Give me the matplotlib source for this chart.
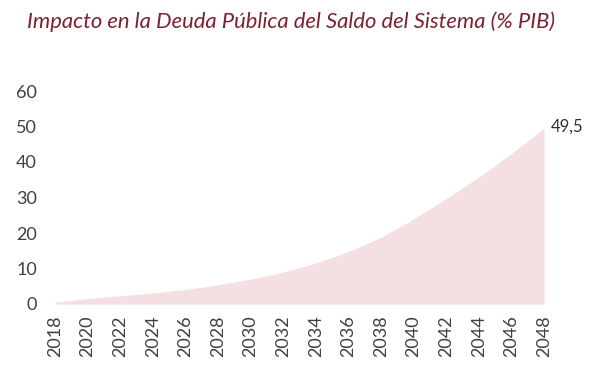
import matplotlib.pyplot as plt

# --- data ---
years = list(range(2018, 2049))
saldo = [0.5, 1.0, 1.5, 1.9, 2.3, 2.7, 3.1, 3.6, 4.1, 4.7, 5.4, 6.2, 7.0, 7.9,
         9.0, 10.2, 11.6, 13.1, 14.8, 16.7, 18.8, 21.3, 24.0, 26.8, 29.7,
         32.7, 35.8, 39.0, 42.4, 45.9, 49.5]
ytick_vals = [0, 10, 20, 30, 40, 50, 60]
xtick_vals = list(range(2018, 2049, 2))

plt.rcParams['font.family'] = ['Lato', 'DejaVu Sans']

fig = plt.figure(figsize=(6.02, 3.72), dpi=100)
ax = fig.add_axes([55 / 602, 1 - 304 / 372, (544 - 55) / 602, (304 - 91) / 372])

ax.fill_between(years, saldo, 0, color='#f4dfe2', linewidth=0)
ax.set_xlim(2018, 2048)
ax.set_ylim(0, 60)

ax.set_yticks(ytick_vals)
ax.set_xticks(xtick_vals)
ax.set_xticklabels([str(y) for y in xtick_vals], rotation=90)
ax.tick_params(axis='both', length=0, labelsize=13, labelcolor='#404040')
ax.tick_params(axis='y', pad=13)
ax.tick_params(axis='x', pad=8)
for s in ax.spines.values():
    s.set_visible(False)

ax.annotate('49,5', xy=(years[-1], saldo[-1]), xytext=(5, 1),
            textcoords='offset points', fontsize=12, color='#303030',
            ha='left', va='center')

fig.text(27 / 602, 1 - 22 / 372, 'Impacto en la Deuda Pública del Saldo del Sistema (% PIB)',
         fontsize=15.8, style='italic', color='#7a2231', ha='left', va='center')

fig.savefig('out.png', dpi=100)
